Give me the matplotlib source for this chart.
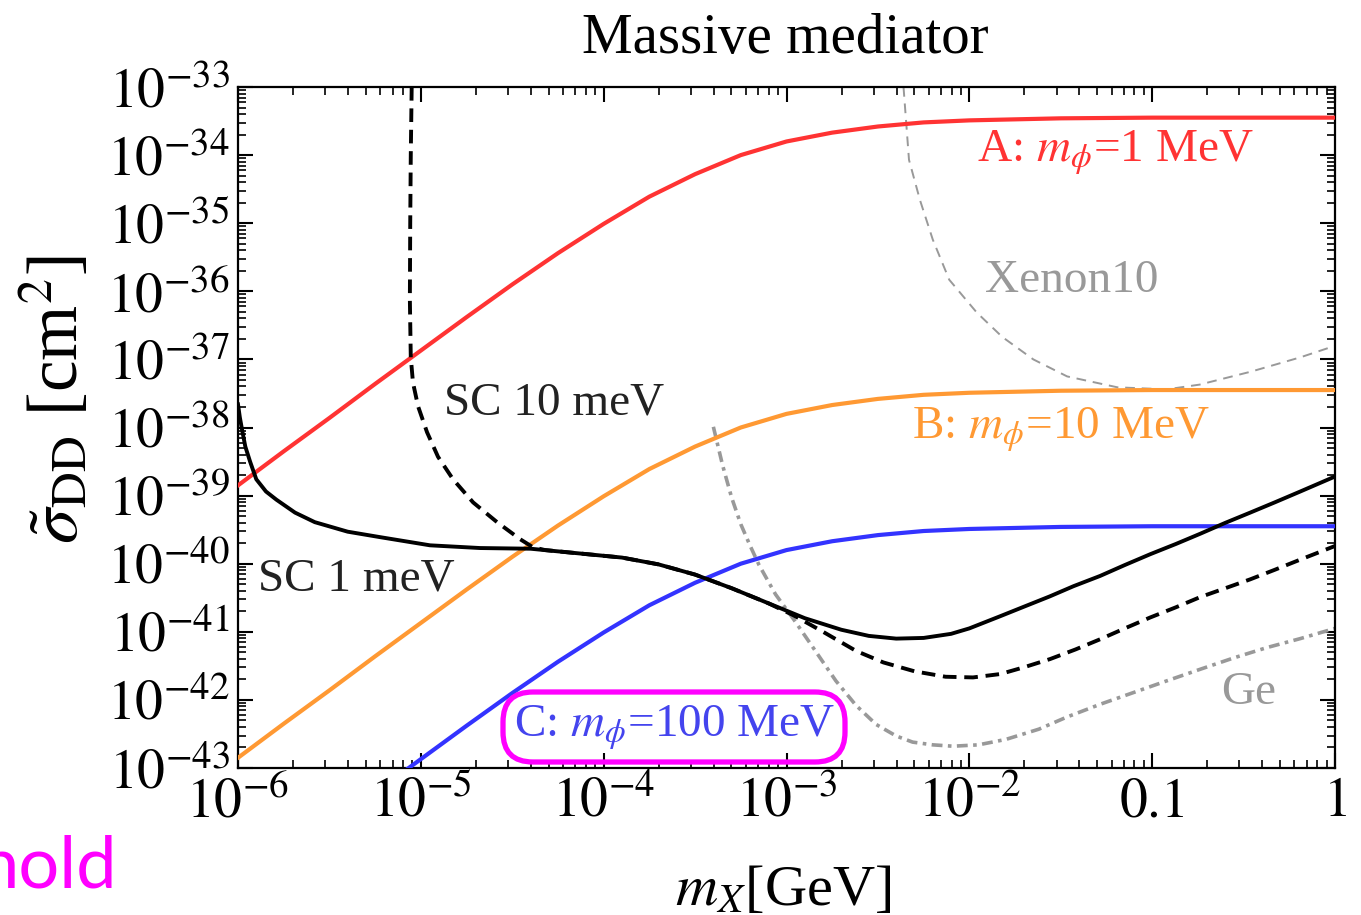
import numpy as np
import matplotlib

matplotlib.use("Agg")
import matplotlib.pyplot as plt
from matplotlib.patches import FancyBboxPatch
from matplotlib.ticker import FixedLocator, FixedFormatter, LogLocator, NullFormatter
from matplotlib.transforms import IdentityTransform

plt.rcParams["font.family"] = ["Liberation Serif", "DejaVu Serif"]
plt.rcParams["mathtext.fontset"] = "stix"

# Curves as log10(m_X / GeV) and log10(sigma / cm^2).
A_LOGM = [-6.00, -5.75, -5.50, -5.25, -5.00, -4.75, -4.50, -4.25, -4.00, -3.75,
          -3.50, -3.25, -3.00, -2.75, -2.50, -2.25, -2.00, -1.50, -1.00, 0.00]
A_LOGS = [-38.85, -38.35, -37.86, -37.36, -36.87, -36.38, -35.90, -35.44, -35.01, -34.61,
          -34.28, -34.00, -33.80, -33.67, -33.58, -33.52, -33.49, -33.46, -33.45, -33.45]

B_LOGM = [-6.00, -5.75, -5.50, -5.25, -5.00, -4.75, -4.50, -4.25, -4.00, -3.75,
          -3.50, -3.25, -3.00, -2.75, -2.50, -2.25, -2.00, -1.50, -1.00, 0.00]
B_LOGS = [-42.85, -42.35, -41.86, -41.36, -40.87, -40.38, -39.90, -39.44, -39.01, -38.61,
          -38.28, -38.00, -37.80, -37.67, -37.58, -37.52, -37.49, -37.46, -37.45, -37.45]

C_LOGM = [-5.25, -5.00, -4.75, -4.50, -4.25, -4.00, -3.75, -3.50, -3.25, -3.00,
          -2.75, -2.50, -2.25, -2.00, -1.50, -1.00, 0.00]
C_LOGS = [-43.36, -42.87, -42.38, -41.90, -41.44, -41.01, -40.61, -40.28, -40.00, -39.80,
          -39.67, -39.58, -39.52, -39.49, -39.46, -39.45, -39.45]

SC1_LOGM = [-6.00, -5.99, -5.978, -5.96, -5.934, -5.90, -5.847, -5.79, -5.688, -5.58,
            -5.40, -5.223, -4.95, -4.676, -4.40, -4.13, -3.90, -3.70, -3.50, -3.30,
            -3.10, -2.90, -2.70, -2.55, -2.40, -2.25, -2.10, -2.00, -1.83, -1.70,
            -1.56, -1.43, -1.285, -1.15, -1.01, -0.87, -0.737, -0.60, -0.464, -0.33,
            -0.19, 0.00]
SC1_LOGS = [-37.66, -37.85, -38.03, -38.28, -38.50, -38.76, -38.94, -39.06, -39.25, -39.39,
            -39.53, -39.61, -39.73, -39.77, -39.78, -39.85, -39.91, -40.01, -40.16, -40.36,
            -40.58, -40.80, -40.97, -41.06, -41.10, -41.09, -41.03, -40.95, -40.77, -40.63,
            -40.48, -40.33, -40.18, -40.02, -39.86, -39.71, -39.56, -39.40, -39.25, -39.10,
            -38.94, -38.72]

SC10_LOGM = [-5.050, -5.055, -5.058, -5.060, -5.055, -5.043, -5.015, -4.966, -4.906, -4.824,
             -4.714, -4.583, -4.457, -4.386, -4.32, -4.13, -3.90, -3.70, -3.50, -3.30,
             -3.10, -2.96, -2.80, -2.62, -2.47, -2.30, -2.13, -1.98, -1.83, -1.70,
             -1.558, -1.42, -1.285, -1.15, -1.011, -0.87, -0.737, -0.60, -0.464, -0.33,
             -0.19, 0.00]
SC10_LOGS = [-33.00, -34.00, -35.00, -36.12, -36.97, -37.34, -37.69, -38.07, -38.43, -38.76,
             -39.10, -39.39, -39.64, -39.76, -39.80, -39.85, -39.91, -40.01, -40.16, -40.36,
             -40.58, -40.76, -41.00, -41.28, -41.45, -41.58, -41.66, -41.67, -41.62, -41.52,
             -41.40, -41.26, -41.11, -40.95, -40.79, -40.64, -40.49, -40.36, -40.23, -40.09,
             -39.94, -39.74]

GE_LOGM = [-3.40, -3.35, -3.30, -3.25, -3.20, -3.15, -3.06, -2.96, -2.85, -2.73,
           -2.62, -2.51, -2.40, -2.31, -2.20, -2.09, -1.95, -1.80, -1.62, -1.465,
           -1.28, -1.10, -0.92, -0.737, -0.55, -0.37, -0.19, 0.00]
GE_LOGS = [-37.99, -38.55, -39.03, -39.42, -39.73, -40.02, -40.45, -40.82, -41.25, -41.72,
           -42.08, -42.36, -42.53, -42.62, -42.66, -42.68, -42.66, -42.58, -42.43, -42.25,
           -42.06, -41.89, -41.72, -41.55, -41.38, -41.23, -41.10, -40.95]

XE_LOGM = [-2.36, -2.33, -2.27, -2.20, -2.11, -1.96, -1.82, -1.65, -1.465, -1.19,
           -0.92, -0.74, -0.46, -0.19, 0.00]
XE_LOGS = [-33.00, -34.07, -34.66, -35.24, -35.83, -36.31, -36.67, -37.00, -37.25, -37.41,
           -37.44, -37.37, -37.18, -36.97, -36.80]

X_TICKS = [1e-6, 1e-5, 1e-4, 1e-3, 1e-2, 0.1, 1]
X_TICK_LABELS = [r"$10^{-6}$", r"$10^{-5}$", r"$10^{-4}$", r"$10^{-3}$", r"$10^{-2}$",
                 r"$0.1$", r"$1$"]
Y_EXPONENTS = list(range(-43, -32))

RED = "#ff3333"
ORANGE = "#ff9933"
BLUE = "#3333ff"
GRAY = "#999999"
MAGENTA = "#ff00ff"


def curve(logm, logs):
    return 10.0 ** np.array(logm), 10.0 ** np.array(logs)


fig = plt.figure(figsize=(13.61, 9.15), dpi=100)
ax = fig.add_axes([238 / 1361, 1 - 768 / 915, 1097 / 1361, 681 / 915])

ax.plot(*curve(A_LOGM, A_LOGS), color=RED, lw=3.0, zorder=3)
ax.plot(*curve(B_LOGM, B_LOGS), color=ORANGE, lw=3.0, zorder=3)
ax.plot(*curve(C_LOGM, C_LOGS), color=BLUE, lw=3.0, zorder=3)
ax.plot(*curve(SC1_LOGM, SC1_LOGS), color="black", lw=2.8, zorder=4)
ax.plot(*curve(SC10_LOGM, SC10_LOGS), color="black", lw=2.8, dashes=(3.5, 2.0), zorder=4)
ax.plot(*curve(GE_LOGM, GE_LOGS), color=GRAY, lw=2.6, dashes=(3.0, 1.5, 1.0, 1.5), zorder=2)
ax.plot(*curve(XE_LOGM, XE_LOGS), color=GRAY, lw=1.4, dashes=(5.0, 3.5), zorder=2)

ax.set_xscale("log")
ax.set_yscale("log")
ax.set_xlim(1e-6, 1)
ax.set_ylim(1e-43, 1e-33)

ax.xaxis.set_major_locator(FixedLocator(X_TICKS))
ax.xaxis.set_major_formatter(FixedFormatter(X_TICK_LABELS))
ax.xaxis.set_minor_locator(LogLocator(base=10, subs=np.arange(2, 10), numticks=50))
ax.xaxis.set_minor_formatter(NullFormatter())
ax.yaxis.set_major_locator(FixedLocator([10.0 ** e for e in Y_EXPONENTS]))
ax.yaxis.set_major_formatter(FixedFormatter([r"$10^{%d}$" % e for e in Y_EXPONENTS]))
ax.yaxis.set_minor_locator(LogLocator(base=10, subs=np.arange(2, 10), numticks=50))
ax.yaxis.set_minor_formatter(NullFormatter())

ax.tick_params(which="both", direction="in", top=True, right=True, labelsize=40)
ax.tick_params(which="major", length=11, width=1.5, pad=6)
ax.tick_params(which="minor", length=5.5, width=1.2)
for sp in ax.spines.values():
    sp.set_linewidth(1.6)

# curve labels
ax.text(10 ** -1.20, 10 ** -34.10, r"A: $m_\phi$=1 MeV", color=RED, fontsize=34,
        ha="center", va="baseline")
ax.text(10 ** -1.44, 10 ** -36.01, "Xenon10", color=GRAY, fontsize=34,
        ha="center", va="baseline")
ax.text(10 ** -4.27, 10 ** -37.81, "SC 10 meV", color="#222222", fontsize=34,
        ha="center", va="baseline")
ax.text(10 ** -1.50, 10 ** -38.16, r"B: $m_\phi$=10 MeV", color=ORANGE, fontsize=34,
        ha="center", va="baseline")
ax.text(10 ** -5.355, 10 ** -40.39, "SC 1 meV", color="#222222", fontsize=34,
        ha="center", va="baseline")
ax.text(10 ** -3.61, 10 ** -42.545, r"C: $m_\phi$=100 MeV", color="#4444ee", fontsize=34,
        ha="center", va="baseline", zorder=6)
ax.text(10 ** -0.475, 10 ** -42.06, "Ge", color=GRAY, fontsize=34,
        ha="center", va="baseline")

# highlight box around label C (pixel coordinates, origin bottom-left)
box = FancyBboxPatch((503, 915 - 762), 342, 70, boxstyle="round,pad=0,rounding_size=30",
                     transform=IdentityTransform(), fc="none", ec=MAGENTA, lw=3.8,
                     clip_on=False, zorder=7)
fig.patches.append(box)

fig.text(785 / 1361, 1 - 53 / 915, "Massive mediator", fontsize=41,
         ha="center", va="baseline")
fig.text(783 / 1361, 1 - 905 / 915, r"$m_X$[GeV]", fontsize=42,
         ha="center", va="baseline")
fig.text(57 / 1361, 1 - 400 / 915, r"$\tilde{\sigma}_{\rm DD}$ [cm$^2$]", fontsize=51,
         rotation=90, ha="center", va="center")
fig.text(118 / 1361, 1 - 888 / 915, "hold", fontsize=52, color=MAGENTA,
         family=["Lato", "DejaVu Sans"], ha="right", va="baseline")

fig.savefig("out.png", dpi=100)
